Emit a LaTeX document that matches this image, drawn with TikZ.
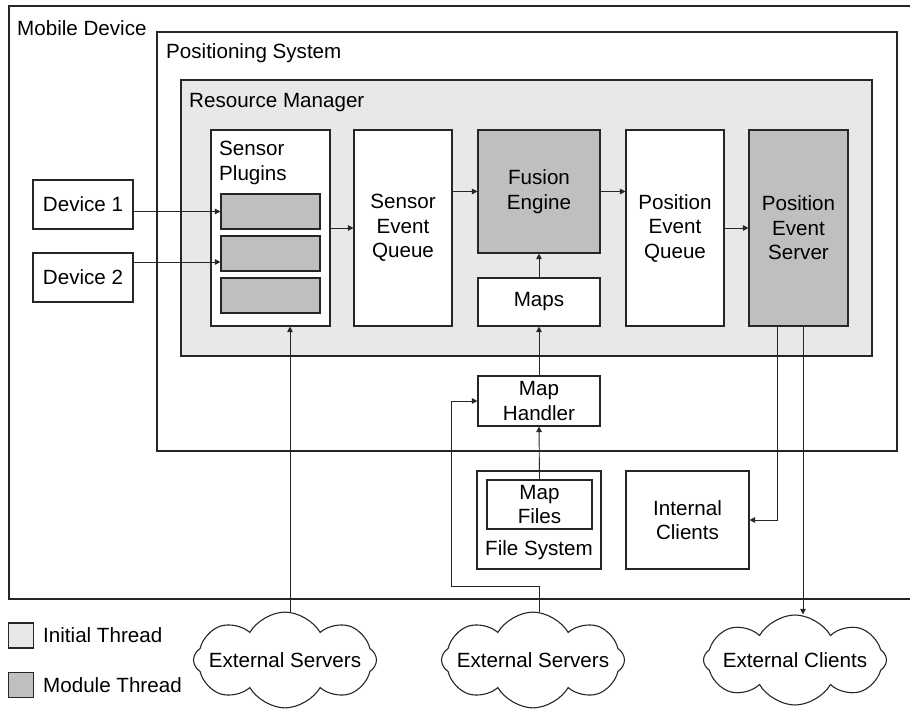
\documentclass[tikz,border=0pt]{standalone}
\usepackage{fontspec}
\setmainfont{Liberation Sans}
\usepackage{tikz}
\usetikzlibrary{shapes.symbols , arrows.meta , calc}

\tikzset{
    box/.style = {draw = black!85 , line width = 1.1pt , fill = white , inner sep = 0pt , align = center},
    module/.style = {box , fill = black!25},
    tag/.style = {inner sep = 0pt , anchor = north west},
    arr/.style = {draw = black!85 , line width = 0.9pt , -{Triangle[length = 5.5pt , width = 5.5pt]}},
    cloudbox/.style = {cloud , cloud puffs = 8 , cloud puff arc = 120 , aspect = 2.7 , draw = black!85 , line width = 1.1pt , fill = white , inner xsep = -16pt , inner ysep = -4pt , minimum width = 183pt , minimum height = 90pt}
}

\begin{document}
\begin{tikzpicture}[x = 1pt , y = -1pt , font = \fontsize{20.6pt}{24.5pt}\selectfont]
    \useasboundingbox (0,0) rectangle (910,711);

    % Πλαισια
    \draw[black!85 , line width = 1.3pt] (9,6) rectangle (940,599); % Mobile Device
    \node[tag] (lblmob) at (17,20) {Mobile Device};
    \draw[black!85 , line width = 1.3pt] (157,32) rectangle (897,451); % Positioning System
    \node[tag] (lblpos) at (166,43) {Positioning System};
    \draw[black!85 , line width = 1.3pt , fill = black!9] (181,80) rectangle (872,356); % Resource Manager
    \node[tag] (lblres) at (189,93) {Resource Manager};

    % Συσκευες
    \node[box , minimum width = 100 , minimum height = 49] (dev1) at (83,204.5) {Device 1};
    \node[box , minimum width = 100 , minimum height = 49] (dev2) at (83,277.5) {Device 2};

    % Sensor Plugins
    \node[box , minimum width = 119 , minimum height = 196] (plugins) at (270.5,228) {};
    \node[tag , align = left] (lblplug) at (219,141) {Sensor\\Plugins};
    \node[module , minimum width = 99 , minimum height = 35] (p1) at (270.5,211.5) {};
    \node[module , minimum width = 99 , minimum height = 35] (p2) at (270.5,253.5) {};
    \node[module , minimum width = 99 , minimum height = 35] (p3) at (270.5,295.5) {};

    % Ουρες και μηχανη
    \node[box , minimum width = 98 , minimum height = 196] (seq) at (403,228) {Sensor\\Event\\Queue};
    \node[module , minimum width = 122 , minimum height = 123] (fus) at (539,191.5) {Fusion\\Engine};
    \node[box , minimum width = 122 , minimum height = 48] (maps) at (539,302) {Maps};
    \node[box , minimum width = 98 , minimum height = 196] (peq) at (675,228) {Position\\Event\\Queue};
    \node[module , minimum width = 99 , minimum height = 196] (pes) at (798.5,228) {Position\\Event\\Server};

    % Map Handler και File System
    \node[box , minimum width = 122 , minimum height = 50] (hnd) at (539,401) {Map\\Handler};
    \node[box , minimum width = 124 , minimum height = 98] (fs) at (539,520) {};
    \node[box , minimum width = 105 , minimum height = 49] (mf) at (539.5,504.5) {Map\\Files};
    \node[inner sep = 0pt , anchor = base] (lblfs) at (539,555) {File System};
    \node[box , minimum width = 123 , minimum height = 98] (icl) at (687.5,520) {Internal\\Clients};

    % Συννεφα
    \node[cloudbox] (srv1) at (285,660) {External Servers};
    \node[cloudbox] (srv2) at (533,660) {External Servers};
    \node[cloudbox] (ecl) at (795,660) {External Clients};

    % Υπομνημα
    \node[box , fill = black!9 , minimum size = 25] (leg1) at (21,635.5) {};
    \node[inner sep = 0pt , anchor = west] (leg1txt) at (43,635.5) {Initial Thread};
    \node[box , fill = black!25 , minimum size = 25] (leg2) at (21,685) {};
    \node[inner sep = 0pt , anchor = west] (leg2txt) at (43,685) {Module Thread};

    % Βελη
    \draw[arr] (dev1.east |- p1.west) -- (p1.west);
    \draw[arr] (dev2.east |- 0,262) -- (p2.west |- 0,262);
    \draw[arr] (plugins.east) -- (seq.west);
    \draw[arr] (seq.east |- fus.west) -- (fus.west);
    \draw[arr] (fus.east) -- (peq.west |- fus.east);
    \draw[arr] (peq.east) -- (pes.west);
    \draw[arr] (maps.north) -- (fus.south);
    \draw[arr] (hnd.north) -- (maps.south);
    \draw[arr] (mf.north) -- (hnd.south);
    \coordinate (pin) at ($(plugins.south)+(19.5,0)$);
    \draw[arr] (srv1.north -| pin) -- (pin);
    \draw[arr] (srv2.north -| hnd.south) |- ($(hnd.west)+(-26,185)$) |- (hnd.west);
    \draw[arr] ($(pes.south)+(-21.5,0)$) |- (icl.east);
    \coordinate (pout) at ($(pes.south)+(4.5,0)$);
    \draw[arr] (pout) -- (pout |- ecl.north);
\end{tikzpicture}
\end{document}
